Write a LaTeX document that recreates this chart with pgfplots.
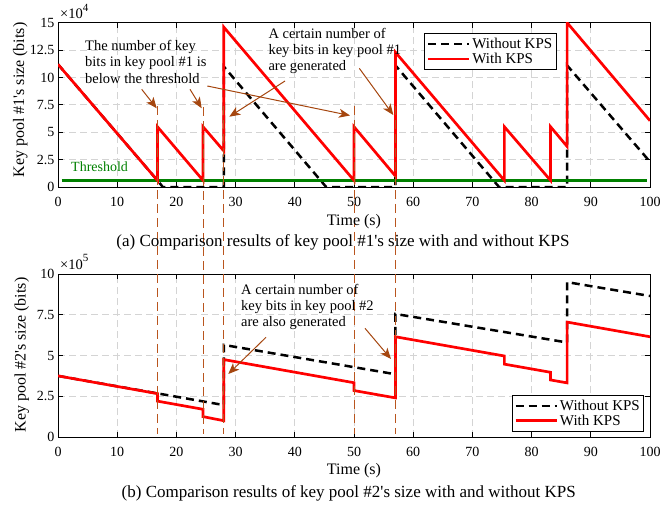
\documentclass[border=0pt]{standalone}
\usepackage{fontspec}
\setmainfont{Liberation Serif}
\newfontfamily\plainserif{Liberation Serif}
\newcommand\apos{{\plainserif'}}
\usepackage{pgfplots}
\pgfplotsset{compat=1.18}
\usetikzlibrary{arrows.meta}
\definecolor{kred}{RGB}{255,0,0}
\definecolor{kgreen}{RGB}{0,128,0}
\definecolor{ksienna}{RGB}{165,70,15}
\definecolor{kvline}{RGB}{185,85,30}
\definecolor{kgrid}{RGB}{212,212,212}
\pgfplotsset{
  kps/.style={
    scale only axis, width=592pt, xmin=0, xmax=100, xtick={0,10,...,100},
    tick align=inside, major tick length=5pt,
    axis line style={line width=1pt},
    every tick/.style={black, line width=0.8pt},
    grid=major, major grid style={kgrid, line width=0.8pt, dash pattern=on 7pt off 4pt},
    /pgf/number format/assume math mode=true,
    ticklabel style={font=\fontsize{14}{16}\selectfont},
    xticklabel style={yshift=-7pt},
    legend image code/.code={\draw[##1] (0pt,0pt) -- (41pt,0pt);},
    legend cell align=left,
    legend style={draw=black, line width=1pt, fill=white,
      font=\fontsize{15}{17}\selectfont, inner xsep=2pt, inner ysep=2.5pt, row sep=-1pt},
  },
  woKPS/.style={black, line width=2.5pt, dash pattern=on 8pt off 5pt},
  wKPS/.style={kred, line width=2.7pt},
}
\begin{document}
\begin{tikzpicture}
\path[use as bounding box] (0,0) rectangle (662pt,-506pt);
% ---------------- top axis ----------------
\begin{axis}[kps, at={(58pt,-187pt)}, anchor=south west, height=164.3pt,
  ymin=0, ymax=15, ytick={0,2.5,5,7.5,10,12.5,15},
  legend style={at={(0.8424,0.9373)}, anchor=north east}]
\addplot[woKPS] coordinates {(0,11.2) (16.8,0.6) (17.7,0) (28,0) (28,11.0) (45.3,0) (57,0) (57,11.1) (74.5,0) (86,0) (86,11.1) (100,2.3)};
\addlegendentry{Without KPS}
\addplot[kgreen, line width=2.5pt, forget plot] coordinates {(0.6,0.6) (99.5,0.6)};
\addplot[wKPS] coordinates {(0,11.2) (16.8,0.6) (16.8,5.5) (24.5,0.6) (24.5,5.5) (28,3.3) (28,14.6) (50,0.6) (50,5.5) (57,1.0) (57,12.3) (75.4,0.6) (75.4,5.5) (83.2,0.6) (83.2,5.5) (86,3.7) (86,15) (100,6.05)};
\addlegendentry{With KPS}
\end{axis}
% ---------------- bottom axis ----------------
\begin{axis}[kps, at={(58pt,-437pt)}, anchor=south west, height=163pt,
  ymin=0, ymax=10, ytick={0,2.5,5,7.5,10},
  legend style={at={(0.9904,0.0325)}, anchor=south east}]
\addplot[woKPS] coordinates {(0,3.75) (28,1.96) (28,5.65) (57,3.85) (57,7.55) (86,5.8) (86,9.5) (100,8.65)};
\addlegendentry{Without KPS}
\addplot[wKPS] coordinates {(0,3.75) (16.8,2.66) (16.8,2.2) (24.5,1.7) (24.5,1.25) (28,1.0) (28,4.75) (50,3.33) (50,2.85) (57,2.4) (57,6.15) (75.4,4.97) (75.4,4.47) (83.2,3.97) (83.2,3.5) (86,3.32) (86,7.05) (100,6.15)};
\addlegendentry{With KPS}
\end{axis}
% vertical marker lines
\begin{scope}[kvline, line width=1.2pt, dash pattern=on 9pt off 5pt]
\draw (157.5pt,-105.9pt) -- (157.5pt,-433.7pt);
\draw (203.5pt,-107pt) -- (203.5pt,-433.7pt);
\draw (223.5pt,-105.9pt) -- (223.5pt,-433.7pt);
\draw (354.5pt,-105.9pt) -- (354.5pt,-433.7pt);
\draw (395.5pt,-105.9pt) -- (395.5pt,-433.7pt);
\end{scope}
% ---------------- labels ----------------
\node[anchor=base west, inner sep=0, font=\fontsize{14.5}{16}\selectfont] at (60pt,-18.3pt) {×10\raisebox{0.5em}{\fontsize{11}{11}\selectfont 4}};
\node[anchor=base west, inner sep=0, font=\fontsize{14.5}{16}\selectfont] at (60pt,-269pt) {×10\raisebox{0.5em}{\fontsize{11}{11}\selectfont 5}};
\node[rotate=90, anchor=base, inner sep=0, font=\fontsize{16}{18}\selectfont] at (24pt,-100pt) {Key pool \#1\apos s size (bits)};
\node[rotate=90, anchor=base, inner sep=0, font=\fontsize{16}{18}\selectfont] at (25.5pt,-355pt) {Key pool \#2\apos s size (bits)};
\node[anchor=base, inner sep=0, font=\fontsize{16}{18}\selectfont] at (354pt,-225pt) {Time (s)};
\node[anchor=base, inner sep=0, font=\fontsize{16}{18}\selectfont] at (354pt,-474pt) {Time (s)};
\node[anchor=base, inner sep=0, font=\fontsize{17}{19}\selectfont] at (343pt,-246pt) {(a) Comparison results of key pool \#1\apos s size with and without KPS};
\node[anchor=base, inner sep=0, font=\fontsize{17}{19}\selectfont] at (348.7pt,-497pt) {(b) Comparison results of key pool \#2\apos s size with and without KPS};
\node[anchor=base west, inner sep=0, text=kgreen, font=\fontsize{14}{16}\selectfont] at (71pt,-171.7pt) {Threshold};
% annotations
\begin{scope}[every node/.style={anchor=base west, inner sep=0, font=\fontsize{14.5}{17}\selectfont}]
\node at (85pt,-50pt) {The number of key};
\node at (85pt,-66.7pt) {bits in key pool \#1 is};
\node at (85pt,-83.3pt) {below the threshold};
\node at (268.3pt,-38.3pt) {A certain number of};
\node at (268.3pt,-54.3pt) {key bits in key pool \#1};
\node at (268.3pt,-70.5pt) {are generated};
\node at (241pt,-294pt) {A certain number of};
\node at (241pt,-310.5pt) {key bits in key pool \#2};
\node at (241pt,-326.7pt) {are also generated};
\end{scope}
\begin{scope}[ksienna, line width=1pt, -{Stealth[length=11pt,width=9pt,inset=3pt]}]
\draw (141.7pt,-89.3pt) -- (156.7pt,-108.3pt);
\draw (190pt,-89.3pt) -- (201.7pt,-108.3pt);
\draw (285pt,-81pt) -- (229.3pt,-116.7pt);
\draw (207.3pt,-86pt) -- (350pt,-115.5pt);
\draw (359.3pt,-68.3pt) -- (393.3pt,-115pt);
\draw (266pt,-337.3pt) -- (228.3pt,-374pt);
\draw (365pt,-328.3pt) -- (391pt,-359pt);
\end{scope}
\end{tikzpicture}
\end{document}
